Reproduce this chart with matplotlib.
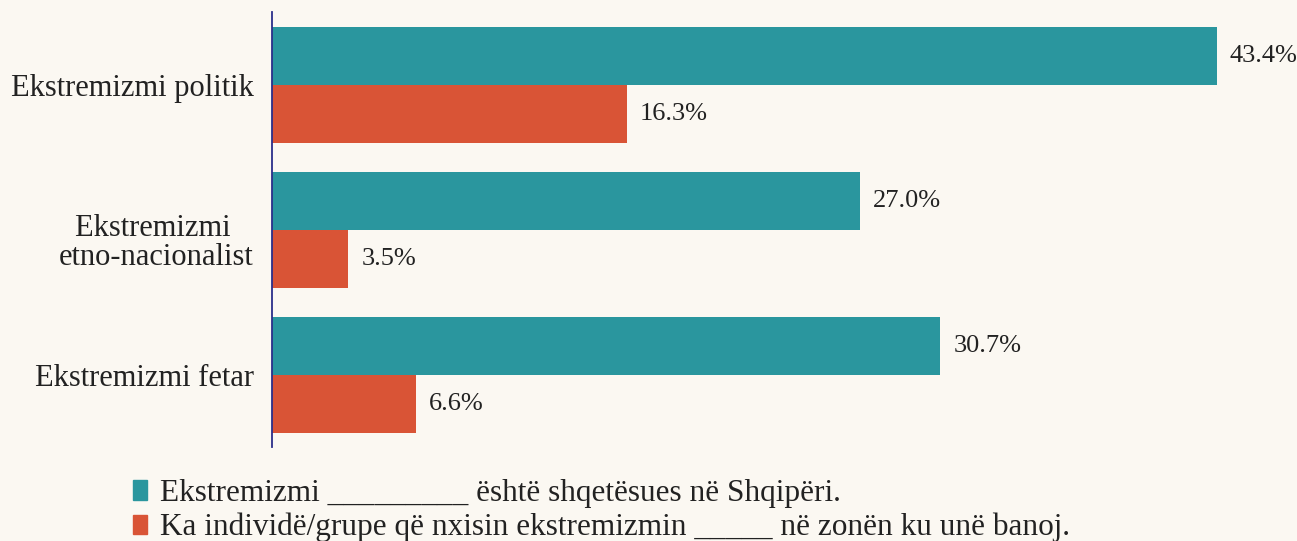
import matplotlib.pyplot as plt
from matplotlib.patches import Patch
from matplotlib.transforms import ScaledTranslation

# chart data
categories = ['Ekstremizmi politik', 'Ekstremizmi \netno-nacionalist', 'Ekstremizmi fetar']
concerned = [43.4, 27.0, 30.7]
local_groups = [16.3, 3.5, 6.6]
legend_labels = ['Ekstremizmi _________ është shqetësues në Shqipëri.',
                 'Ka individë/grupe që nxisin ekstremizmin _____ në zonën ku unë banoj.']

teal = '#2A969E'
orange = '#D95436'
bg = '#FBF8F2'

plt.rcParams['font.family'] = ['Liberation Serif', 'DejaVu Serif']

fig = plt.figure(figsize=(12.97, 5.41), dpi=100, facecolor=bg)
ax = fig.add_axes([272 / 1297, 1 - 447 / 541, 1 - 272 / 1297, 435 / 541])
ax.set_facecolor(bg)

h = 0.403
pos = list(range(len(categories)))
ax.barh([p - h / 2 for p in pos], concerned, height=h, color=teal)
ax.barh([p + h / 2 for p in pos], local_groups, height=h, color=orange)

for p, v in zip(pos, concerned):
    ax.text(v + 0.6, p - h / 2, f'{v:.1f}%', va='center', ha='left', fontsize=19, color='#222222')
for p, v in zip(pos, local_groups):
    ax.text(v + 0.6, p + h / 2, f'{v:.1f}%', va='center', ha='left', fontsize=19, color='#222222')

ax.set_xlim(0, 1025 / 21.77)
ax.set_ylim(2.497, -0.503)
ax.set_yticks(pos)
ax.set_yticklabels(categories, fontsize=22, color='#222222', multialignment='center', linespacing=1.0)
ax.tick_params(axis='y', length=0, pad=13)
ax.set_xticks([])
for s in ['top', 'right', 'bottom']:
    ax.spines[s].set_visible(False)
ax.spines['left'].set_color('#2B2F8A')
ax.spines['left'].set_linewidth(1.3)

# the two-line label sits a little lower in the original
lbl = ax.get_yticklabels()[1]
lbl.set_transform(lbl.get_transform() + ScaledTranslation(0, -0.1, fig.dpi_scale_trans))

handles = [Patch(color=teal), Patch(color=orange)]
fig.legend(handles, legend_labels, loc='upper left', bbox_to_anchor=(133 / 1297, 1 - 479 / 541),
           frameon=False, fontsize=22.5, handlelength=0.45, handleheight=0.6,
           handletextpad=0.4, labelspacing=0.16, borderpad=0, borderaxespad=0,
           labelcolor='#222222')

fig.savefig('out.png', dpi=100, facecolor=bg)
